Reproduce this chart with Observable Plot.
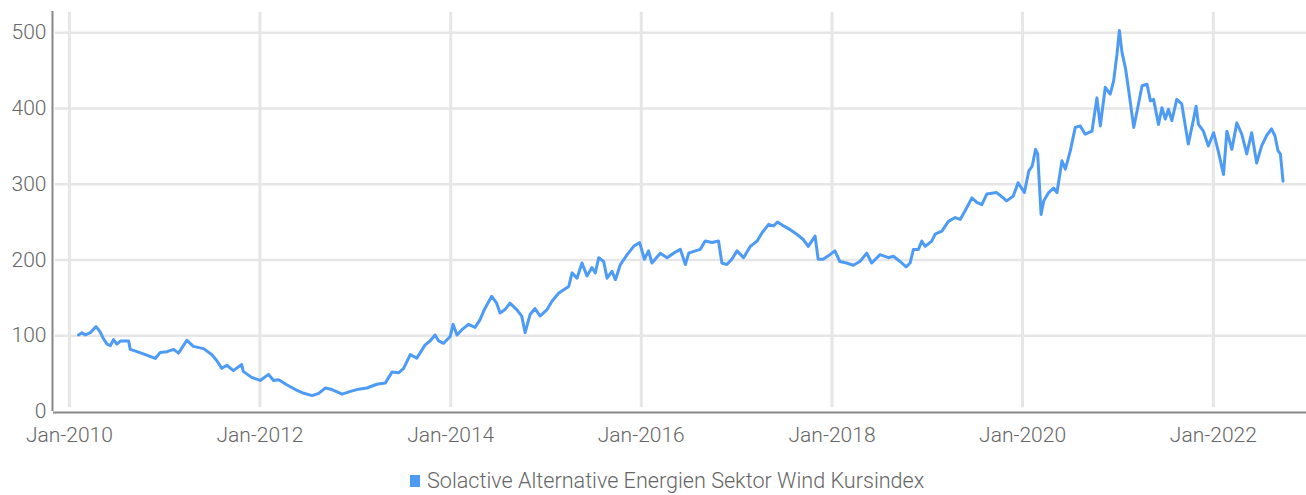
<!DOCTYPE html>
<html>
<head>
<meta charset="utf-8">
<script src="https://cdn.jsdelivr.net/npm/d3@7"></script>
<script src="https://cdn.jsdelivr.net/npm/@observablehq/plot@0.6"></script>
<style>
  html, body { margin: 0; padding: 0; background: #fff; }
  body { width: 1306px; height: 495px; overflow: hidden; font-family: Roboto, sans-serif; font-weight: 300; }
  #legend { position: absolute; left: 410px; top: 468px; font-size: 21.6px; color: #666; white-space: nowrap; display: flex; align-items: center; }
  #legend .sw { display: inline-block; width: 10px; height: 12px; margin-right: 7px; }
</style>
</head>
<body>
<div id="chart"></div>
<div id="legend"><span class="sw"></span><span id="legendText"></span></div>
<script>
const seriesName = "Solactive Alternative Energien Sektor Wind Kursindex";

const dates = [
"2010-02-05","2010-02-18","2010-03-03","2010-03-22","2010-04-13","2010-04-27","2010-05-10","2010-05-25","2010-06-07","2010-06-19","2010-07-02","2010-07-15","2010-08-16","2010-08-22","2010-09-17","2010-10-19","2010-11-26","2010-12-15",
"2011-01-10","2011-02-04","2011-02-23","2011-03-27","2011-04-21","2011-05-30","2011-07-01","2011-07-20","2011-08-08","2011-08-27","2011-09-21","2011-10-23","2011-10-29","2011-11-30",
"2012-01-02","2012-02-03","2012-02-22","2012-03-13","2012-04-14","2012-05-16","2012-06-17","2012-07-19","2012-08-13","2012-09-08","2012-10-03","2012-11-11","2012-12-13",
"2013-01-13","2013-02-14","2013-03-24","2013-04-25","2013-05-21","2013-06-15","2013-07-04","2013-07-30","2013-08-24","2013-09-25","2013-10-14","2013-11-02","2013-11-15","2013-12-04","2013-12-30",
"2014-01-10","2014-01-25","2014-02-13","2014-03-10","2014-04-04","2014-04-23","2014-05-12","2014-06-07","2014-06-26","2014-07-09","2014-07-28","2014-08-16","2014-09-11","2014-09-30","2014-10-13","2014-11-01","2014-11-20","2014-12-09",
"2015-01-05","2015-01-24","2015-02-19","2015-03-29","2015-04-11","2015-04-30","2015-05-19","2015-06-07","2015-06-26","2015-07-09","2015-07-22","2015-08-10","2015-08-23","2015-09-11","2015-09-24","2015-10-13","2015-11-08","2015-12-03","2015-12-26",
"2016-01-13","2016-01-29","2016-02-11","2016-03-14","2016-04-09","2016-05-04","2016-05-30","2016-06-18","2016-07-01","2016-07-26","2016-08-14","2016-09-02","2016-09-28","2016-10-23","2016-11-05","2016-11-24","2016-12-13",
"2017-01-02","2017-01-27","2017-02-22","2017-03-20","2017-04-08","2017-05-03","2017-05-22","2017-06-06","2017-06-29","2017-07-25","2017-08-19","2017-09-13","2017-10-02","2017-10-28","2017-11-09","2017-11-28","2017-12-24",
"2018-01-12","2018-01-31","2018-02-26","2018-03-23","2018-04-18","2018-05-14","2018-06-02","2018-07-04","2018-08-05","2018-08-24","2018-09-19","2018-10-12","2018-10-27","2018-11-09","2018-11-28","2018-12-11","2018-12-24",
"2019-01-18","2019-01-31","2019-02-26","2019-03-23","2019-04-18","2019-05-07","2019-05-26","2019-06-21","2019-07-10","2019-07-29","2019-08-17","2019-09-24","2019-10-19","2019-11-01","2019-11-26","2019-12-15",
"2020-01-08","2020-01-25","2020-02-07","2020-02-20","2020-02-28","2020-03-12","2020-03-22","2020-04-10","2020-04-29","2020-05-12","2020-05-31","2020-06-13","2020-07-02","2020-07-21","2020-08-09","2020-08-28","2020-09-23","2020-10-12","2020-10-25","2020-11-13","2020-12-02","2020-12-15","2020-12-28",
"2021-01-06","2021-01-16","2021-01-29","2021-02-11","2021-03-02","2021-03-15","2021-04-03","2021-04-22","2021-05-05","2021-05-17","2021-06-05","2021-06-18","2021-07-01","2021-07-13","2021-07-26","2021-08-14","2021-09-02","2021-09-27","2021-10-16","2021-10-27","2021-11-05","2021-11-24","2021-12-13",
"2022-01-02","2022-01-21","2022-02-09","2022-02-22","2022-03-13","2022-04-01","2022-04-20","2022-05-09","2022-05-28","2022-06-16","2022-07-05","2022-07-24","2022-08-12","2022-08-25","2022-09-06","2022-09-15","2022-09-25"
];

const values = [
101,104,101,104,112,106,97,89,87,95,89,93,93,82,79,75,70,78,
79,82,77,94,86,83,75,67,57,61,54,62,53,45,
41,49,41,42,35,29,24,21,24,31,29,23,26.5,
29.5,31,36,37.5,52,51,56.5,75,70.5,88,93,101,93.5,90,99,
115,101,108,115,111,121,136,152,143,130,134.5,143,134.5,126,104,128,136,126,
134.5,145.5,156.5,165,183,176,196,179,190,183,203,198,176,185,174,194,207,218,223,
201,212,196,209,203,209,214,194,209,212,214,225,223,225,196,194,201,
212,203,218,225,236,247,245,250,245,240,234,227,218,231.5,201,201,207,
212,198,196,193,198,209,196,207,203,205,198,191,196,214,214,225,218,
225,234,238,251,256,253.5,265,282,276,273,287,289,282,278,284,302,
289,317.5,324,346,340,260,278,289,295,289,331,320,344,375,377,366,370,414,377,428,419,436.5,472,
503,474,454,423,375,397,430,432,410,412,379,401,386,399,384,412,406,353,384,403,379,370,350.5,
368,342,313,370,346,381,366,340,368,328,350.5,364,373,364,344,340,304
];

const xTicks = ["2010-01-01","2012-01-01","2014-01-01","2016-01-01","2018-01-01","2020-01-01","2022-01-01"];
const yTicks = [0, 100, 200, 300, 400, 500];
const yGrid = [100, 200, 300, 400, 500];

const parse = d3.utcParse("%Y-%m-%d");
const data = dates.map((d, i) => ({date: parse(d), value: values[i]}));
const xTickDates = xTicks.map(parse);
const x0 = parse("2009-11-01"), x1 = parse("2022-12-24");
const yMax = 528;

const lineColor = "#4e9bf6";
document.getElementById("legendText").textContent = seriesName;
document.querySelector("#legend .sw").style.background = lineColor;

const chart = Plot.plot({
  width: 1306,
  height: 458,
  marginLeft: 53,
  marginRight: 0,
  marginTop: 11,
  marginBottom: 47,
  style: {fontFamily: 'Roboto, sans-serif', fontWeight: 300, fontSize: "21px", color: "#666", background: "#fff"},
  x: {type: "utc", domain: [x0, x1]},
  y: {domain: [0, yMax]},
  marks: [
    Plot.ruleY(yGrid, {x1: x0, x2: x1, stroke: "#e6e6e6", strokeWidth: 2.5, dx: 2}),
    Plot.ruleX(xTickDates, {y1: 5, y2: yMax - 1, stroke: "#e6e6e6", strokeWidth: 3}),
    Plot.ruleX([x0], {y1: 0, y2: yMax, stroke: "#888", strokeWidth: 2, dx: -1}),
    Plot.ruleY([0], {stroke: "#888", strokeWidth: 2, dy: 1}),
    Plot.lineY(data, {x: "date", y: "value", stroke: lineColor, strokeWidth: 3, curve: "linear"}),
    Plot.axisY(yTicks, {tickSize: 0, tickPadding: 7, fill: "#666", label: null}),
    Plot.axisX(xTickDates, {tickSize: 0, tickPadding: 16, tickFormat: d3.utcFormat("%b-%Y"), fill: "#666", label: null})
  ]
});
document.getElementById("chart").appendChild(chart);
</script>
</body>
</html>
